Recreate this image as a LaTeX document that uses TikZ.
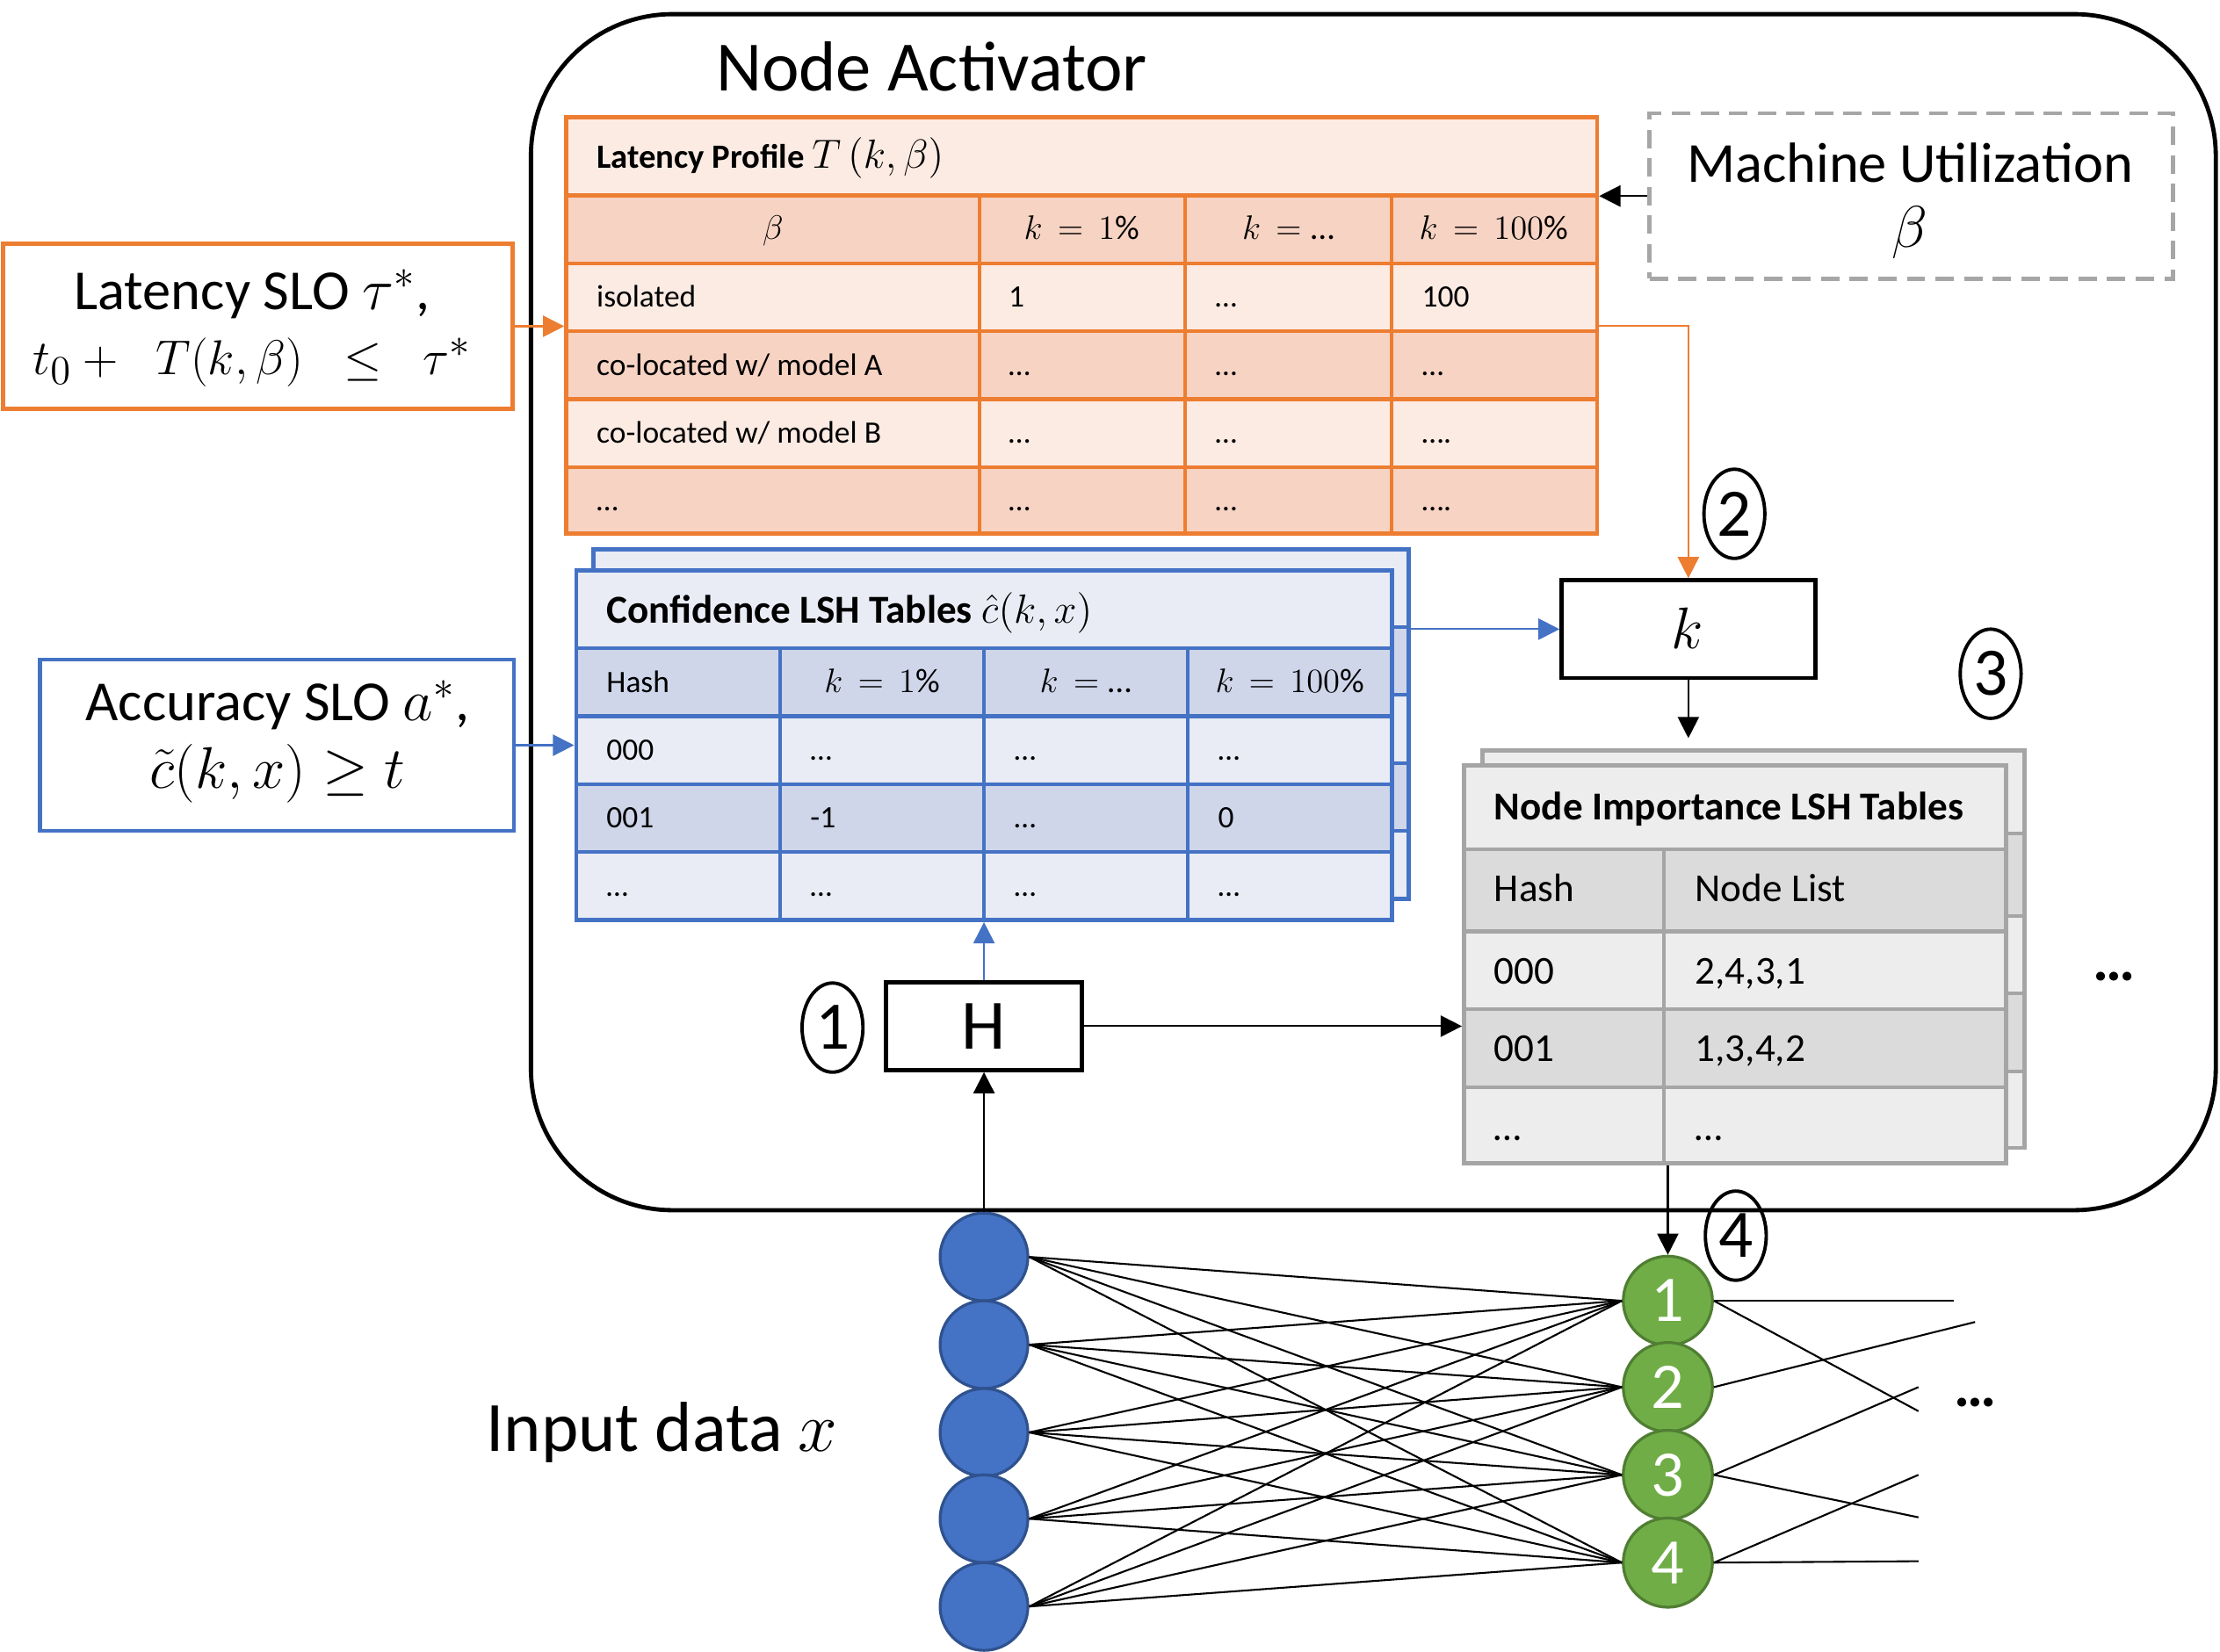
\documentclass[tikz,border=0pt]{standalone}
\usepackage{fontspec}
\setmainfont{Carlito}
\usetikzlibrary{arrows.meta,shapes.geometric,fit}
\definecolor{orng}{HTML}{ED7D31}
\definecolor{blu}{HTML}{4472C4}
\definecolor{bluD}{HTML}{2F528F}
\definecolor{grn}{HTML}{70AD47}
\definecolor{grnD}{HTML}{507E32}
\definecolor{gryB}{HTML}{A5A5A5}
\definecolor{gryD}{HTML}{A6A6A6}
\definecolor{LPl}{HTML}{FCEBE3}
\definecolor{LPd}{HTML}{F7D3C3}
\definecolor{CBl}{HTML}{E9ECF5}
\definecolor{CBd}{HTML}{CFD6EA}
\definecolor{NIl}{HTML}{EDEDED}
\definecolor{NId}{HTML}{DBDBDB}
\newcommand{\fsz}[2]{\fontsize{#1}{#2}\selectfont}
% latency table row: name, baseline y, four cells
\newcommand{\lrow}[6]{%
  \node[ltxt] (#1a) at (421,#2) {#3};
  \node[ltxt] (#1b) at (712,#2) {#4};
  \node[ltxt] (#1c) at (858,#2) {#5};
  \node[ltxt] (#1d) at (1004,#2) {#6};}
\newcommand{\crow}[6]{%
  \node[ltxt] (#1a) at (428,#2) {#3};
  \node[ltxt] (#1b) at (572,#2) {#4};
  \node[ltxt] (#1c) at (716,#2) {#5};
  \node[ltxt] (#1d) at (860,#2) {#6};}
\newcommand{\nrow}[4]{%
  \node[ntxt] (#1a) at (1055,#2) {#3};
  \node[ntxt] (#1b) at (1197,#2) {#4};}
\begin{document}
\begin{tikzpicture}[x=0.5pt,y=-0.5pt,
  thinln/.style={line width=0.65pt},
  arr/.style={-{Triangle[length=7.5pt,width=7.5pt]},line width=0.65pt},
  frame/.style={inner sep=0pt,line width=1.5pt},
  ltxt/.style={anchor=base west,inner sep=0pt,font=\fsz{11}{13}},
  ntxt/.style={anchor=base west,inner sep=0pt,font=\fsz{14}{17}},
  hmath/.style={anchor=base,inner sep=0pt,font=\fsz{12}{14}},
  bigtxt/.style={inner sep=0pt,align=center,font=\fsz{20}{24}},
  circnum/.style={ellipse,draw,line width=1.2pt,minimum width=21.5pt,minimum height=31.5pt,inner sep=0pt,font=\fsz{24}{28}},
  innode/.style={circle,fill=blu,draw=bluD,line width=1pt,minimum size=31pt,inner sep=0pt},
  hidnode/.style={circle,fill=grn,draw=grnD,line width=1pt,minimum size=31.5pt,inner sep=0pt,text=white,font=\fsz{23}{27}},
  olin/.style={orng,line width=1.3pt},
  blin/.style={blu,line width=1.3pt},
  glin/.style={gryB,line width=1.3pt}]
\useasboundingbox (0,0) rectangle (1568,1167);

% Node activator frame
\node[draw,frame,rounded corners=50pt,fit={(375,10)(1565,855)}] (act) {};
\node[font=\fsz{25}{30},inner sep=0pt] (acttitle) at (658,47) {Node Activator};

% ---------- Latency profile table ----------
\foreach \ya/\yb/\c in {83/138/LPl,138/186/LPd,186/234/LPl,234/282/LPd,282/330/LPl,330/377/LPd}
  \fill[\c] (400,\ya) rectangle (1128,\yb);
\foreach \y in {138,186,234,282,330} \draw[olin] (400,\y) -- (1128,\y);
\foreach \x in {692,837,983} \draw[olin] (\x,138) -- (\x,377);
\node[draw=orng,frame,fit={(400,83)(1128,377)}] (lat) {};
\node[anchor=base west,inner sep=0pt,font=\fsz{12}{14}] (lattitle) at (421,119) {\textbf{Latency Profile} {\fsz{14}{16}$T\,(k,\beta)$}};
\node[hmath] (lh1) at (546,169) {$\beta$};
\node[hmath] (lh2) at (764,169) {$k\,=\,1\%$};
\node[hmath] (lh3) at (910,169) {$k\,=\;$\ldots};
\node[hmath] (lh4) at (1055,169) {$k\,=\,100\%$};
\lrow{la}{217}{isolated}{1}{…}{100}
\lrow{lb}{265}{co-located w/ model A}{…}{…}{…}
\lrow{lc}{313}{co-located w/ model B}{…}{…}{….}
\lrow{ld}{361}{…}{…}{…}{….}

% ---------- Machine utilization ----------
\node[draw=gryD,frame,dash pattern=on 6.5pt off 3.6pt,fit={(1165,80)(1535,197)}] (mu) {};
\node[bigtxt] (mut) at (1349,142) {Machine Utilization\\[-1pt]$\beta$};

% ---------- Latency SLO ----------
\node[draw=orng,frame,fit={(2,172)(362,289)}] (slo) {};
\node[bigtxt] (slot) at (178,232) {Latency SLO $\tau^*$,\\[-1pt]{\fsz{19}{23}$t_0+\;\;T(k,\beta)\;\;\le\;\;\tau^*$}};

% ---------- Accuracy SLO ----------
\node[draw=blu,frame,fit={(28,466)(363,587)}] (acc) {};
\node[bigtxt] (acct) at (196,524) {Accuracy SLO $a^*$,\\$\tilde{c}(k,x)\ge t$};

% ---------- Confidence LSH tables (back copy) ----------
\begin{scope}[shift={(12,-15)}]
\foreach \ya/\yb/\c in {403/458/CBl,458/506/CBd,506/554/CBl,554/602/CBd,602/650/CBl}
  \fill[\c] (407,\ya) rectangle (983,\yb);
\foreach \y in {458,506,554,602} \draw[blin] (407,\y) -- (983,\y);
\node[draw=blu,frame,fit={(407,403)(983,650)}] (confb) {};
\end{scope}
% front copy
\foreach \ya/\yb/\c in {403/458/CBl,458/506/CBd,506/554/CBl,554/602/CBd,602/650/CBl}
  \fill[\c] (407,\ya) rectangle (983,\yb);
\foreach \y in {458,506,554,602} \draw[blin] (407,\y) -- (983,\y);
\foreach \x in {551,695,839} \draw[blin] (\x,458) -- (\x,650);
\node[draw=blu,frame,fit={(407,403)(983,650)}] (conf) {};
\node[anchor=base west,inner sep=0pt,font=\fsz{14}{17}] (conftitle) at (428,440) {\textbf{Confidence LSH Tables} $\hat{c}(k,x)$};
\node[ltxt] (ch1) at (428,489) {Hash};
\node[hmath] (ch2) at (623,489) {$k\,=\,1\%$};
\node[hmath] (ch3) at (767,489) {$k\,=\;$\ldots};
\node[hmath] (ch4) at (911,489) {$k\,=\,100\%$};
\crow{ca}{537}{000}{…}{…}{…}
\crow{cb}{585}{001}{-1}{…}{0}
\crow{cc}{633}{…}{…}{…}{…}

% ---------- k box ----------
\node[draw,frame,fit={(1103,410)(1282,479)}] (kbox) {};
\node[inner sep=0pt,font=\fsz{22}{26}] (ktxt) at (1192,444) {$k$};

% ---------- Node importance tables ----------
\begin{scope}[shift={(13,-11)}]
\foreach \ya/\yb/\c in {541/600/NIl,600/658/NId,658/713/NIl,713/768/NId,768/822/NIl}
  \fill[\c] (1034,\ya) rectangle (1417,\yb);
\foreach \y in {600,658,713,768} \draw[glin] (1034,\y) -- (1417,\y);
\node[draw=gryB,frame,fit={(1034,541)(1417,822)}] (nib) {};
\end{scope}
\foreach \ya/\yb/\c in {541/600/NIl,600/658/NId,658/713/NIl,713/768/NId,768/822/NIl}
  \fill[\c] (1034,\ya) rectangle (1417,\yb);
\foreach \y in {600,658,713,768} \draw[glin] (1034,\y) -- (1417,\y);
\draw[glin] (1175,600) -- (1175,822);
\node[draw=gryB,frame,fit={(1034,541)(1417,822)}] (ni) {};
\node[anchor=base west,inner sep=0pt,font=\fsz{14}{17}\bfseries] (nititle) at (1055,579) {Node Importance LSH Tables};
\nrow{nh}{637}{Hash}{Node List}
\nrow{na}{695}{000}{2,4,3,1}
\nrow{nb}{750}{001}{1,3,4,2}
\nrow{nc}{806}{…}{…}

% ---------- H box ----------
\node[draw,frame,fit={(626,694)(764,756)}] (hbox) {};
\node[inner sep=0pt,font=\fsz{25}{30}] (htxt) at (695,725) {H};

% circled numbers
\node[circnum] (c1) at (588,726) {1};
\node[circnum] (c2) at (1225,363) {2};
\node[circnum] (c3) at (1406,476) {3};
\node[circnum] (c4) at (1226,873) {4};

% dots
\node[inner sep=0pt,font=\fsz{21}{25}\bfseries] (dots1) at (1493,690) {…};
\node[inner sep=0pt,font=\fsz{21}{25}\bfseries] (dots2) at (1395,991) {…};

% input data text
\node[anchor=west,inner sep=0pt,font=\fsz{25}{30}] (inlab) at (343,1012) {Input data $x$};

% ---------- network ----------
\foreach \y [count=\i] in {888,950,1012,1073,1135}
  \node[innode] (b\i) at (695,\y) {};
\foreach \y [count=\i] in {919,980,1042,1104}
  \node[hidnode] (g\i) at (1178,\y) {\i};
\foreach \i in {1,...,5} \foreach \j in {1,...,4}
  \draw[thinln] (b\i.east) -- (g\j.west);
\coordinate (r1) at (1380,919);
\coordinate (r2) at (1355,997);
\coordinate (r3) at (1395,934);
\coordinate (r4) at (1355,980);
\coordinate (r5) at (1355,1072);
\coordinate (r6) at (1355,1042);
\coordinate (r7) at (1355,1103);
\draw[thinln] (g1.east) -- (r1);
\draw[thinln] (g1.east) -- (r2);
\draw[thinln] (g2.east) -- (r3);
\draw[thinln] (g3.east) -- (r4);
\draw[thinln] (g3.east) -- (r5);
\draw[thinln] (g4.east) -- (r6);
\draw[thinln] (g4.east) -- (r7);

% ---------- connectors ----------
\draw[arr,orng] (slo.east) -- (slo.east -| lat.west);
\draw[arr] (mu.west) -- (mu.west -| lat.east);
\draw[arr,orng] (lat.east) -| (kbox.north);
\draw[arr,blu] (kbox.west -| confb.east) -- (kbox.west);
\draw[arr,blu] (acc.east) -- (acc.east -| conf.west);
\draw[arr] (kbox.south) -- ([yshift=3.5pt]kbox.south |- nib.north);
\draw[arr,blu] (hbox.north) -- (hbox.north |- conf.south);
\draw[arr] (b1.north) -- (hbox.south);
\draw[arr] (hbox.east) -- (hbox.east -| ni.west);
\draw[arr] (g1.north |- ni.south) -- (g1.north);
\end{tikzpicture}
\end{document}
